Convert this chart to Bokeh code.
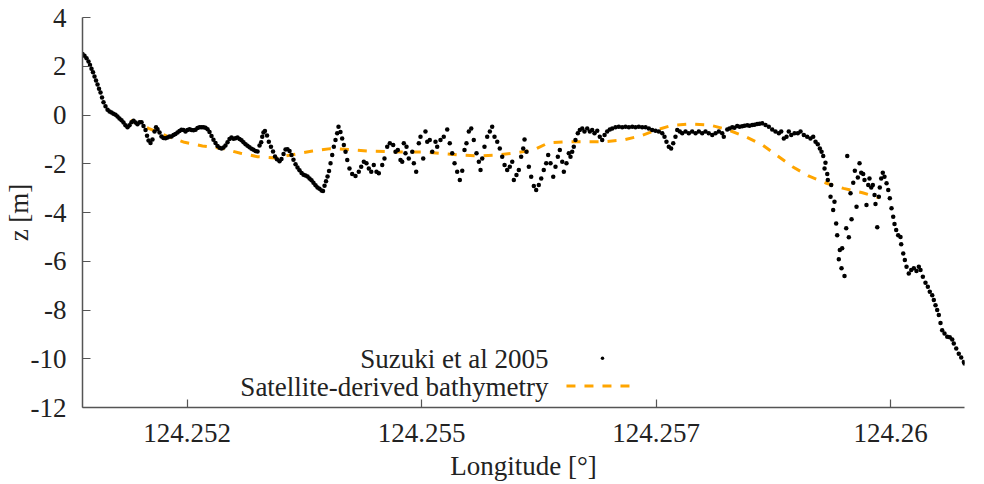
from bokeh.plotting import figure
from bokeh.models import Range1d, FixedTicker, Label
from bokeh.embed import file_html
from bokeh.resources import INLINE

# Survey profile (Suzuki et al. 2005): longitude [deg] and elevation z [m]
suzuki_lon = [
    124.251386, 124.251407, 124.251429, 124.251450, 124.251466, 124.251482, 124.251498, 124.251514,
    124.251530, 124.251546, 124.251562, 124.251578, 124.251594, 124.251610, 124.251631, 124.251653,
    124.251674, 124.251695, 124.251716, 124.251738, 124.251759, 124.251780, 124.251802, 124.251823,
    124.251844, 124.251866, 124.251887, 124.251908, 124.251930, 124.251951, 124.251972, 124.251994,
    124.252015, 124.252036, 124.252058, 124.252074, 124.252090, 124.252111, 124.252132, 124.252154,
    124.252170, 124.252186, 124.252207, 124.252228, 124.252249, 124.252271, 124.252292, 124.252313,
    124.252335, 124.252356, 124.252377, 124.252399, 124.252420, 124.252441, 124.252463, 124.252484,
    124.252505, 124.252527, 124.252548, 124.252569, 124.252591, 124.252612, 124.252633, 124.252655,
    124.252676, 124.252697, 124.252719, 124.252740, 124.252761, 124.252782, 124.252804, 124.252825,
    124.252846, 124.252868, 124.252889, 124.252910, 124.252932, 124.252953, 124.252974, 124.252996,
    124.253017, 124.253038, 124.253060, 124.253081, 124.253102, 124.253124, 124.253145, 124.253166,
    124.253188, 124.253209, 124.253230, 124.253252, 124.253273, 124.253291, 124.253302, 124.253315,
    124.253331, 124.253353, 124.253372, 124.253395, 124.253417, 124.253438, 124.253459, 124.253486,
    124.253507, 124.253529, 124.253550, 124.253571, 124.253593, 124.253614, 124.253635, 124.253657,
    124.253678, 124.253699, 124.253721, 124.253742, 124.253763, 124.253785, 124.253806, 124.253827,
    124.253848, 124.253870, 124.253891, 124.253912, 124.253934, 124.253950, 124.253966, 124.253982,
    124.253998, 124.254014, 124.254030, 124.254048, 124.254065, 124.254083, 124.254101, 124.254115,
    124.254136, 124.254154, 124.254172, 124.254190, 124.254208, 124.254232, 124.254261, 124.254296,
    124.254331, 124.254357, 124.254385, 124.254413, 124.254438, 124.254464, 124.254491, 124.254520,
    124.254545, 124.254581, 124.254605, 124.254634, 124.254662, 124.254698, 124.254723, 124.254747,
    124.254776, 124.254794, 124.254811, 124.254829, 124.254840, 124.254864, 124.254901, 124.254918,
    124.254943, 124.254971, 124.254989, 124.255018, 124.255042, 124.255061, 124.255088, 124.255114,
    124.255149, 124.255167, 124.255202, 124.255237, 124.255274, 124.255301, 124.255327, 124.255352,
    124.255380, 124.255408, 124.255434, 124.255458, 124.255479, 124.255504, 124.255530, 124.255557,
    124.255586, 124.255611, 124.255629, 124.255647, 124.255671, 124.255700, 124.255728, 124.255753,
    124.255778, 124.255807, 124.255834, 124.255860, 124.255885, 124.255913, 124.255941, 124.255967,
    124.255984, 124.256012, 124.256037, 124.256062, 124.256084, 124.256098, 124.256119, 124.256144,
    124.256169, 124.256197, 124.256222, 124.256250, 124.256276, 124.256303, 124.256329, 124.256350,
    124.256375, 124.256404, 124.256428, 124.256453, 124.256474, 124.256500, 124.256517, 124.256545,
    124.256570, 124.256588, 124.256606, 124.256623, 124.256641, 124.256666, 124.256687, 124.256713,
    124.256737, 124.256766, 124.256794, 124.256819, 124.256844, 124.256873, 124.256900, 124.256926,
    124.256951, 124.256979, 124.257007, 124.257033, 124.257068, 124.257103, 124.257139, 124.257174,
    124.257210, 124.257246, 124.257281, 124.257316, 124.257352, 124.257388, 124.257423, 124.257459,
    124.257494, 124.257529, 124.257566, 124.257590, 124.257611, 124.257636, 124.257661, 124.257683,
    124.257707, 124.257726, 124.257753, 124.257779, 124.257814, 124.257849, 124.257885, 124.257921,
    124.257956, 124.257992, 124.258027, 124.258062, 124.258099, 124.258134, 124.258169, 124.258205,
    124.258222, 124.258259, 124.258283, 124.258312, 124.258336, 124.258365, 124.258390, 124.258418,
    124.258443, 124.258472, 124.258496, 124.258525, 124.258550, 124.258578, 124.258603, 124.258632,
    124.258667, 124.258702, 124.258738, 124.258773, 124.258809, 124.258834, 124.258862, 124.258891,
    124.258915, 124.258941, 124.258976, 124.259011, 124.259040, 124.259075, 124.259111, 124.259146,
    124.259175, 124.259200, 124.259224, 124.259246, 124.259264, 124.259282, 124.259306, 124.259296,
    124.259325, 124.259331, 124.259367, 124.259360, 124.259402, 124.259388, 124.259420, 124.259431,
    124.259459, 124.259484, 124.259448, 124.259477, 124.259509, 124.259527, 124.259555, 124.259584,
    124.259538, 124.259573, 124.259602, 124.259619, 124.259637, 124.259651, 124.259669, 124.259687,
    124.259708, 124.259722, 124.259743, 124.259762, 124.259775, 124.259794, 124.259811, 124.259829,
    124.259839, 124.259858, 124.259875, 124.259885, 124.259900, 124.259917, 124.259935, 124.259957,
    124.259975, 124.259992, 124.260010, 124.260028, 124.260042, 124.260060, 124.260081, 124.260106,
    124.260113, 124.260135, 124.260152, 124.260170, 124.260194, 124.260220, 124.260248, 124.260276,
    124.260301, 124.260319, 124.260344, 124.260372, 124.260397, 124.260418, 124.260444, 124.260461,
    124.260479, 124.260497, 124.260514, 124.260532, 124.260550, 124.260575, 124.260604, 124.260631,
    124.260657, 124.260674, 124.260700, 124.260727, 124.260753, 124.260781, 124.260788,
]
suzuki_z = [
    2.50, 2.43, 2.33, 2.20, 2.05, 1.90, 1.75, 1.58,
    1.42, 1.25, 1.08, 0.92, 0.72, 0.52, 0.36, 0.22,
    0.14, 0.10, 0.05, 0.01, -0.06, -0.14, -0.22, -0.31,
    -0.42, -0.50, -0.42, -0.30, -0.24, -0.31, -0.38, -0.30,
    -0.30, -0.45, -0.62, -0.85, -1.05, -1.15, -1.00, -0.68,
    -0.50, -0.58, -0.72, -0.88, -0.94, -0.95, -0.92, -0.88,
    -0.88, -0.82, -0.78, -0.72, -0.66, -0.60, -0.62, -0.68,
    -0.62, -0.58, -0.62, -0.63, -0.60, -0.53, -0.50, -0.50,
    -0.50, -0.52, -0.58, -0.70, -0.86, -1.02, -1.15, -1.27,
    -1.34, -1.37, -1.33, -1.25, -1.12, -0.98, -0.92, -0.97,
    -0.95, -0.92, -0.98, -1.04, -1.12, -1.20, -1.26, -1.32,
    -1.38, -1.43, -1.48, -1.50, -1.25, -1.12, -0.89, -0.72,
    -0.66, -0.84, -1.10, -1.30, -1.50, -1.70, -1.82, -1.90,
    -1.80, -1.60, -1.42, -1.40, -1.48, -1.64, -1.84, -2.02,
    -2.15, -2.27, -2.38, -2.45, -2.48, -2.52, -2.60, -2.68,
    -2.78, -2.88, -2.97, -3.03, -3.10, -3.12, -2.90, -2.72,
    -2.52, -2.30, -1.98, -1.64, -1.30, -1.03, -0.75, -0.48,
    -0.70, -0.96, -1.23, -1.51, -1.85, -2.19, -2.42, -2.50,
    -2.33, -2.12, -1.92, -1.98, -2.19, -2.33, -2.05, -2.33,
    -2.39, -2.05, -1.78, -1.30, -1.16, -1.23, -1.51, -1.44,
    -1.85, -1.92, -1.16, -1.57, -1.30, -1.78, -1.51, -1.98,
    -2.33, -1.16, -0.89, -1.78, -0.68, -1.10, -1.03, -1.51,
    -1.10, -1.30, -1.03, -0.89, -0.59, -1.16, -1.57, -1.98,
    -2.33, -2.67, -2.29, -1.44, -1.16, -0.68, -0.55, -1.03,
    -1.57, -1.92, -2.26, -1.78, -1.30, -0.89, -0.68, -0.48,
    -0.89, -1.10, -1.37, -1.71, -2.05, -2.26, -2.12, -1.92,
    -2.67, -2.46, -2.26, -1.71, -1.37, -1.00, -1.51, -2.12,
    -2.53, -2.91, -3.08, -2.87, -2.60, -2.26, -1.98, -1.64,
    -1.98, -2.53, -2.12, -1.71, -1.44, -1.92, -2.33, -1.98,
    -1.57, -1.71, -1.51, -1.30, -1.03, -0.75, -0.62, -0.55,
    -0.68, -0.55, -0.68, -0.62, -0.75, -0.65, -0.89, -1.03,
    -0.82, -0.68, -0.59, -0.55, -0.50, -0.48, -0.50, -0.48,
    -0.50, -0.48, -0.50, -0.48, -0.50, -0.50, -0.55, -0.62,
    -0.65, -0.68, -0.75, -0.89, -1.10, -1.30, -1.37, -1.16,
    -0.89, -0.62, -0.68, -0.75, -0.68, -0.75, -0.68, -0.75,
    -0.68, -0.75, -0.68, -0.75, -0.82, -0.75, -0.68, -0.75,
    -0.89, -0.59, -0.55, -0.50, -0.52, -0.45, -0.48, -0.46,
    -0.44, -0.42, -0.44, -0.41, -0.40, -0.37, -0.36, -0.34,
    -0.41, -0.48, -0.59, -0.68, -0.75, -0.68, -0.96, -0.89,
    -0.68, -0.82, -0.75, -0.75, -0.68, -0.82, -0.89, -0.96,
    -0.89, -1.10, -1.20, -1.37, -1.51, -1.68, -1.96, -2.19,
    -2.42, -2.67, -2.87, -3.35, -3.56, -3.90, -4.45, -4.93,
    -5.54, -5.47, -5.92, -6.29, -6.61, -4.65, -5.02, -4.28,
    -1.68, -3.21, -2.78, -2.29, -3.76, -2.56, -1.98, -2.37,
    -2.42, -2.67, -3.69, -2.87, -2.60, -2.97, -2.87, -3.28,
    -3.65, -4.61, -3.35, -2.97, -2.60, -2.37, -2.53, -2.80,
    -3.08, -3.42, -3.83, -4.17, -4.47, -4.72, -4.93, -5.00,
    -5.30, -5.68, -5.95, -6.23, -6.50, -6.36, -6.29, -6.40,
    -6.23, -6.36, -6.64, -6.88, -7.05, -7.25, -7.39, -7.59,
    -7.80, -8.00, -8.21, -8.53, -8.83, -8.96, -9.10, -9.12,
    -9.21, -9.37, -9.58, -9.79, -9.95, -10.13, -10.19,
]

# Satellite-derived bathymetry along the same transect
sdb_lon = [
    124.251898, 124.252090, 124.252281, 124.252473, 124.252665, 124.252878, 124.253070, 124.253252,
    124.253443, 124.253635, 124.253838, 124.254030, 124.254232, 124.254435, 124.254637, 124.254829,
    124.255021, 124.255213, 124.255405, 124.255597, 124.255810, 124.256002, 124.256194, 124.256354,
    124.256535, 124.256737, 124.256929, 124.257142, 124.257334, 124.257516, 124.257675, 124.257867,
    124.258070, 124.258262, 124.258454, 124.258635, 124.258795, 124.258955, 124.259125, 124.259317,
    124.259498, 124.259701, 124.259882,
]
sdb_z = [
    -0.22, -0.55, -0.86, -1.12, -1.27, -1.37, -1.57, -1.71,
    -1.76, -1.62, -1.48, -1.38, -1.42, -1.48, -1.50, -1.52,
    -1.52, -1.58, -1.64, -1.68, -1.64, -1.55, -1.44, -1.14,
    -1.10, -1.10, -1.10, -1.03, -0.86, -0.60, -0.42, -0.37,
    -0.41, -0.60, -0.89, -1.23, -1.68, -2.12, -2.50, -2.80,
    -3.01, -3.19, -3.40,
]

x_ticks = [124.2525, 124.255, 124.2575, 124.26]
x_tick_labels = ["124.252", "124.255", "124.257", "124.26"]
y_ticks = [-12, -10, -8, -6, -4, -2, 0, 2, 4]
y_tick_labels = ["-12", "-10", "-8", "-6", "-4", "-2", "0", "2", "4"]

series_names = ["Suzuki et al 2005", "Satellite-derived bathymetry"]

FONT = "Liberation Serif"
FS = "27px"
TEXT = "#222222"
AXIS_GREY = "#555555"
ORANGE = "#FFA500"

p = figure(
    width=984, height=484,
    output_backend="svg", toolbar_location=None,
    x_range=Range1d(min(suzuki_lon), max(suzuki_lon)),
    y_range=Range1d(-12, 4),
    min_border_left=82, min_border_right=20,
    min_border_top=17, min_border_bottom=77,
    background_fill_color="white", border_fill_color="white",
)
p.outline_line_color = None
p.xgrid.visible = False
p.ygrid.visible = False

for ax in (p.xaxis[0], p.yaxis[0]):
    ax.axis_line_color = AXIS_GREY
    ax.axis_line_width = 1.5
    ax.major_tick_line_color = AXIS_GREY
    ax.major_tick_line_width = 1.2
    ax.major_tick_in = 8
    ax.major_tick_out = 0
    ax.minor_tick_line_color = None
    ax.major_label_text_font = FONT
    ax.major_label_text_font_size = FS
    ax.major_label_text_color = TEXT
    ax.axis_label_text_font = FONT
    ax.axis_label_text_font_size = FS
    ax.axis_label_text_font_style = "normal"
    ax.axis_label_text_color = TEXT

p.xaxis.ticker = FixedTicker(ticks=x_ticks)
p.xaxis.major_label_overrides = dict(zip(x_ticks, x_tick_labels))
p.xaxis.major_label_standoff = 16
p.xaxis.axis_label = "Longitude [°]"
p.xaxis.axis_label_standoff = 6

p.yaxis.ticker = FixedTicker(ticks=y_ticks)
p.yaxis.major_label_overrides = dict(zip(y_ticks, y_tick_labels))
p.yaxis.major_label_standoff = 16
p.yaxis.axis_label = "z [m]"
p.yaxis.axis_label_standoff = -6

# measured profile as small black dots, satellite estimate as dashed orange line
p.line(sdb_lon, sdb_z, line_color=ORANGE, line_width=3, line_dash="9 9")
p.scatter(suzuki_lon, suzuki_z, marker="circle", size=4.5, fill_color="black", line_color=None)

# key, drawn inside the frame near the bottom
p.add_layout(Label(x=466, y=49, x_units="screen", y_units="screen", text=series_names[0],
                   text_font=FONT, text_font_size=FS, text_color=TEXT,
                   text_align="right", text_baseline="middle"))
p.add_layout(Label(x=466, y=21, x_units="screen", y_units="screen", text=series_names[1],
                   text_font=FONT, text_font_size=FS, text_color=TEXT,
                   text_align="right", text_baseline="middle"))
p.scatter([124.256929], [-9.98], marker="circle", size=3.5, fill_color="black", line_color=None)
p.line([124.256545, 124.257228], [-11.115, -11.115], line_color=ORANGE, line_width=3, line_dash="9 9")

open("out.html", "w").write(file_html(p, INLINE))
